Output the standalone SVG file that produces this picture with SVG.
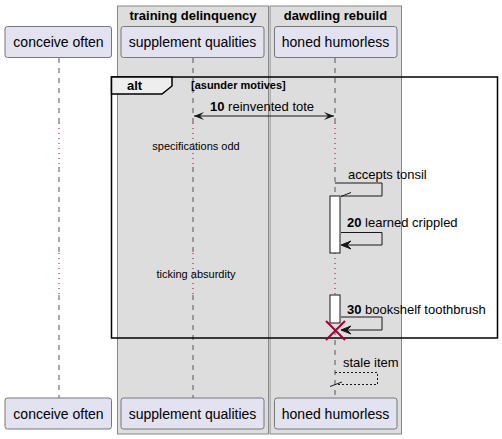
<svg xmlns="http://www.w3.org/2000/svg" width="502" height="439" viewBox="0 0 502 439">
<style>
text{font-family:"Liberation Sans",Arial,sans-serif;fill:#000}
.grp{fill:#DDDDDD;stroke:#888;stroke-width:1}
.gt{font-size:13px;font-weight:bold;text-anchor:middle}
.part{fill:#E2E2F0;stroke:#777;stroke-width:1}
.pt{font-size:14px;text-anchor:middle}
.life{stroke:#555;stroke-width:1;stroke-dasharray:5,5;fill:none}
.delay{stroke:#A80036;stroke-width:1;stroke-dasharray:1,4;fill:none}
.msg{stroke:#181818;stroke-width:1;fill:none}
.dash{stroke:#181818;stroke-width:1;fill:none;stroke-dasharray:2,2}
.ml{font-size:13px}
.dl{font-size:11px;text-anchor:middle}
.act{fill:#FFFFFF;stroke:#181818;stroke-width:1}
.head{fill:#181818;stroke:#181818;stroke-width:1}
</style>
<defs>
<marker id="ah" viewBox="0 0 10 8" refX="10" refY="4" markerWidth="10" markerHeight="8" markerUnits="userSpaceOnUse" orient="auto-start-reverse">
<path d="M0,0 L10,4 L0,8 L4,4 Z" fill="#181818"/>
</marker>
</defs>
<g id="box-training">
<rect class="grp" x="117.5" y="6" width="151" height="428"/>
<text class="gt" x="193" y="20">training delinquency</text>
</g>
<g id="box-dawdling">
<rect class="grp" x="270" y="6" width="131.5" height="428"/>
<text class="gt" x="335.5" y="20">dawdling rebuild</text>
</g>
<g id="lifelines">
<path class="life" d="M59,58 V123 M59,167 V253 M59,295 V398"/>
<path class="delay" d="M59,123 V167 M59,253 V295"/>
<path class="life" d="M193,58 V123 M193,167 V253 M193,295 V398"/>
<path class="delay" d="M193,123 V167 M193,253 V295"/>
<path class="life" d="M335,58 V123 M335,167 V196 M335,330 V398"/>
<path class="delay" d="M335,123 V167 M335,253 V295"/>
</g>
<g id="p-conceive-top">
<rect class="part" x="5" y="26.5" width="106.5" height="31" rx="2.5"/>
<text class="pt" x="58.5" y="47">conceive often</text>
</g>
<g id="p-supplement-top">
<rect class="part" x="121" y="26.5" width="143" height="31" rx="2.5"/>
<text class="pt" x="192.5" y="47">supplement qualities</text>
</g>
<g id="p-honed-top">
<rect class="part" x="274.5" y="26.5" width="122.5" height="31" rx="2.5"/>
<text class="pt" x="335.5" y="47">honed humorless</text>
</g>
<g id="p-conceive-bottom">
<rect class="part" x="5" y="398" width="106.5" height="31" rx="2.5"/>
<text class="pt" x="58.5" y="418.5">conceive often</text>
</g>
<g id="p-supplement-bottom">
<rect class="part" x="121" y="398" width="143" height="31" rx="2.5"/>
<text class="pt" x="192.5" y="418.5">supplement qualities</text>
</g>
<g id="p-honed-bottom">
<rect class="part" x="274.5" y="398" width="122.5" height="31" rx="2.5"/>
<text class="pt" x="335.5" y="418.5">honed humorless</text>
</g>
<g id="activations">
<rect class="act" x="330" y="196" width="10" height="57"/>
<rect class="act" x="330" y="295" width="10" height="28"/>
</g>
<g id="frame-alt">
<rect x="111.5" y="77" width="386" height="261" fill="none" stroke="#000" stroke-width="1.5"/>
<path d="M111.5,77 H172 V86 L162,94 H111.5 Z" fill="#EEEEEE" stroke="#000" stroke-width="1.5"/>
<text x="127" y="90" font-size="13" font-weight="bold">alt</text>
<text x="191" y="89" font-size="11" font-weight="bold">[asunder motives]</text>
</g>
<g id="connectors">
<line class="msg" x1="194" y1="116" x2="334" y2="116" marker-start="url(#ah)" marker-end="url(#ah)"/>
<text class="ml" x="210" y="111"><tspan font-weight="bold">10</tspan> reinvented tote</text>
<text class="dl" x="196" y="150">specifications odd</text>
<path class="msg" d="M335,183 H382 V196 H341"/>
<line class="msg" x1="341" y1="196.5" x2="351" y2="192.5"/>
<text class="ml" x="348" y="179">accepts tonsil</text>
<path class="msg" d="M341,232.5 H382 V245 H342"/>
<path class="head" d="M341,245 L351,241 L347,245 L351,249 Z"/>
<text class="ml" x="347" y="227"><tspan font-weight="bold">20</tspan> learned crippled</text>
<text class="dl" x="196" y="278">ticking absurdity</text>
<path class="msg" d="M341,317 H382 V330 H342"/>
<path class="head" d="M341,330 L351,326 L347,330 L351,334 Z"/>
<text class="ml" x="347" y="314"><tspan font-weight="bold">30</tspan> bookshelf toothbrush</text>
<path class="dash" d="M335,372.5 H377.5 V384.5 H335"/>
<line class="msg" x1="330" y1="386.5" x2="342" y2="382"/>
<text class="ml" x="343" y="367">stale item</text>
</g>
<g id="destroy">
<path d="M326,321 L345,340 M326,340 L345,321" stroke="#A80036" stroke-width="2" fill="none"/>
</g>
</svg>
